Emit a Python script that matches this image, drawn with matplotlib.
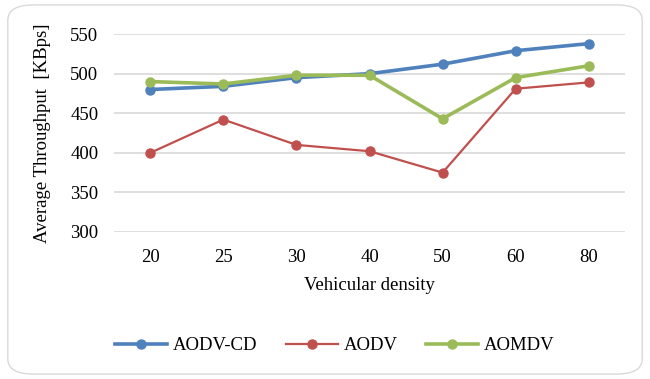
import matplotlib.pyplot as plt
from matplotlib.patches import FancyBboxPatch

densities = ["20", "25", "30", "40", "50", "60", "80"]
aodv_cd = [480, 484, 495, 500, 512, 529, 538]
aodv = [400, 442, 410, 402, 375, 481, 489]
aomdv = [490, 487, 498, 498, 443, 495, 510]

plt.rcParams['font.family'] = ['Liberation Serif', 'DejaVu Serif']
plt.rcParams['font.size'] = 13.5

fig = plt.figure(figsize=(6.5, 3.79), dpi=100)
border = FancyBboxPatch((0.012, 0.013), 0.976, 0.974,
                        boxstyle="round,pad=0,rounding_size=0.04",
                        transform=fig.transFigure, facecolor="white",
                        edgecolor="#d9d9d9", linewidth=1.0, zorder=-1)
fig.patches.append(border)

ax = fig.add_axes([0.175, 0.388, 0.787, 0.522])
x = range(len(densities))
ax.plot(x, aodv_cd, color="#4F81BD", lw=2.6, marker="o", ms=6.5, label="AODV-CD")
ax.plot(x, aodv, color="#C0504D", lw=1.6, marker="o", ms=6.5, label="AODV")
ax.plot(x, aomdv, color="#9BBB59", lw=2.6, marker="o", ms=6.5, label="AOMDV")

ax.set_xlim(-0.5, len(densities) - 0.5)
ax.set_ylim(300, 550)
ax.set_yticks(range(300, 551, 50))
ax.set_xticks(list(x))
ax.set_xticklabels(densities)
ax.grid(axis="y", color="#d9d9d9", lw=1.2)
ax.set_axisbelow(True)
for s in ax.spines.values():
    s.set_visible(False)
ax.tick_params(length=0, pad=12)
ax.tick_params(axis="y", pad=11)

ax.set_xlabel("Vehicular density", labelpad=8)
ax.set_ylabel("Average Throughput  [KBps]", labelpad=14)

fig.legend(loc="center", bbox_to_anchor=(0.515, 0.088), ncol=3, frameon=False,
           handlelength=2.8, columnspacing=1.5, handletextpad=0.3)

fig.savefig("out.png", dpi=100)
